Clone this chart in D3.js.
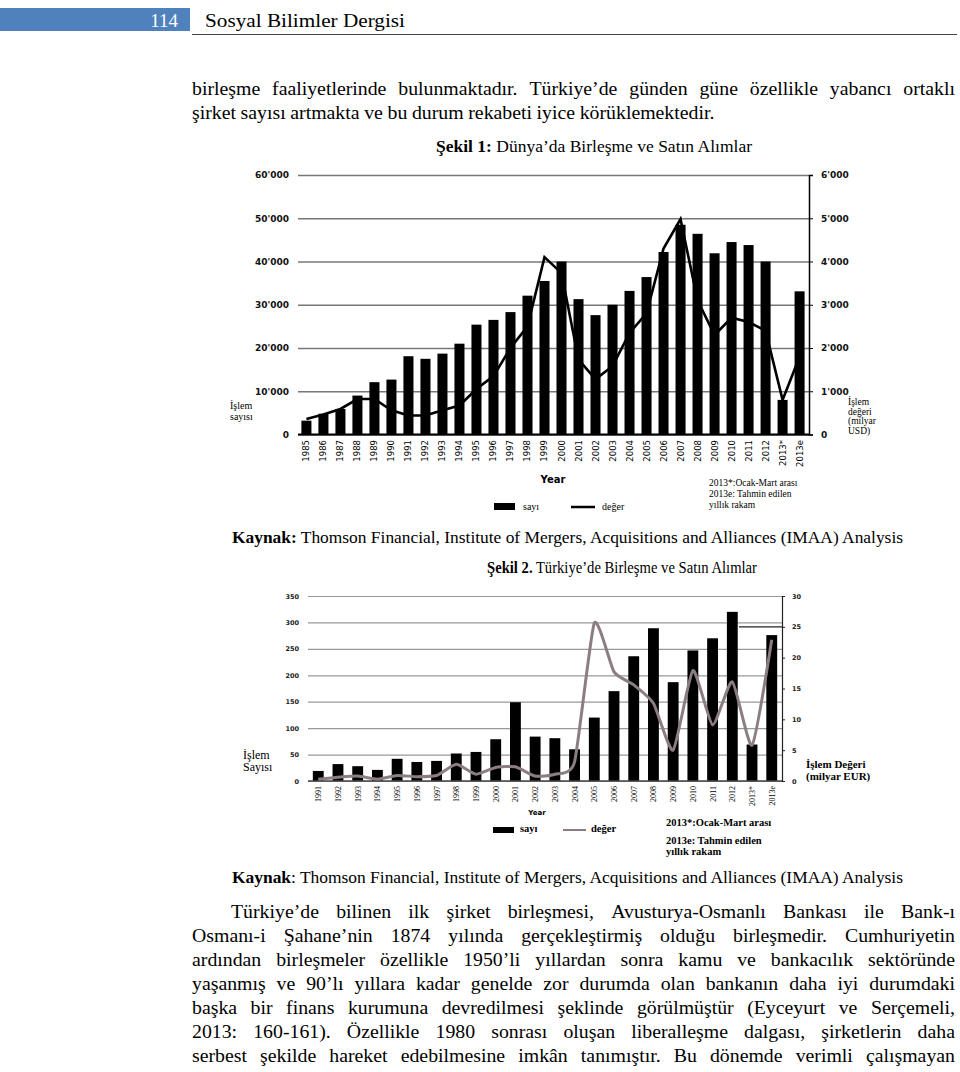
<!DOCTYPE html>
<html>
<head>
<meta charset="utf-8">
<script src="https://cdn.jsdelivr.net/npm/d3@7"></script>
<style>
  body { margin: 0; background: #fff; }
  svg text { font-family: "Liberation Serif", "Times New Roman", serif; }
  .sans { font-family: "DejaVu Sans", Verdana, sans-serif; }
</style>
</head>
<body>
<svg id="page" width="960" height="1072"></svg>
<script>
// chart 1: world M&A
const years1 = ["1985", "1986", "1987", "1988", "1989", "1990", "1991", "1992", "1993", "1994", "1995", "1996", "1997", "1998", "1999",
    "2000", "2001", "2002", "2003", "2004", "2005", "2006", "2007", "2008", "2009", "2010", "2011", "2012", "2013*", "2013e"];
const deals1 = [3200, 4800, 5900, 9000, 12100, 12700, 18100, 17500, 18700, 21000, 25400, 26500, 28300, 32100, 35500,
    40000, 31300, 27600, 30000, 33200, 36400, 42200, 48500, 46400, 41900, 44500, 43800, 40000, 8000, 33100];
const value1 = [360, 460, 590, 820, 820, 560, 440, 440, 560, 670, 1050, 1350, 2000, 2500, 4100,
    3730, 1730, 1280, 1580, 2350, 2800, 4300, 4980, 3100, 2300, 2700, 2600, 2400, 800, 1800];
const ticksLeft1 = [0, 10000, 20000, 30000, 40000, 50000, 60000];
const ticksRight1 = [0, 1000, 2000, 3000, 4000, 5000, 6000];

// chart 2: Turkey M&A
const years2 = ["1991", "1992", "1993", "1994", "1995", "1996", "1997", "1998", "1999", "2000", "2001", "2002",
    "2003", "2004", "2005", "2006", "2007", "2008", "2009", "2010", "2011", "2012", "2013*", "2013e"];
const deals2 = [19, 32, 28, 21, 42, 36, 38, 52, 55, 79, 149, 84, 81, 60, 120, 170, 236, 289, 187, 247, 270, 320, 69, 276];
const value2 = [0.3, 0.6, 0.8, 0.3, 0.9, 0.7, 0.9, 2.7, 1.1, 2.2, 2.3, 0.8, 1.1, 3.1, 25.6, 17.7, 15.6, 12.6, 5.0, 17.9, 9.1, 16.1, 5.8, 22.9];
const ticksLeft2 = [0, 50, 100, 150, 200, 250, 300, 350];
const ticksRight2 = [0, 5, 10, 15, 20, 25, 30];

const para1 = [
    "birleşme faaliyetlerinde bulunmaktadır. Türkiye’de günden güne özellikle yabancı ortaklı",
    "şirket sayısı artmakta ve bu durum rekabeti iyice körüklemektedir."
];
const para2 = [
    "Türkiye’de bilinen ilk şirket birleşmesi, Avusturya-Osmanlı Bankası ile Bank-ı",
    "Osmanı-i Şahane’nin 1874 yılında gerçekleştirmiş olduğu birleşmedir. Cumhuriyetin",
    "ardından birleşmeler özellikle 1950’li yıllardan sonra kamu ve bankacılık sektöründe",
    "yaşanmış ve 90’lı yıllara kadar genelde zor durumda olan bankanın daha iyi durumdaki",
    "başka bir finans kurumuna devredilmesi şeklinde görülmüştür (Eyceyurt ve Serçemeli,",
    "2013: 160-161). Özellikle 1980 sonrası oluşan liberalleşme dalgası, şirketlerin daha",
    "serbest şekilde hareket edebilmesine imkân tanımıştır. Bu dönemde verimli çalışmayan"
];

const svg = d3.select("#page");
const WORD_STRETCH = 1.07;

function apos(d) {
    return d3.format(",")(d).replace(",", "'");
}

// spread words of one line between x0 and x1 (x1 null = left aligned)
function textLine(str, x0, x1, y, size) {
    let words = str.split(" ");
    let nodes = words.map(w => svg.append("text").text(w).attr("y", y).style("font-size", size + "px"));
    let widths = nodes.map(n => n.node().getComputedTextLength() * WORD_STRETCH);
    let gap = x1 === null ? size * 0.25 : (x1 - x0 - d3.sum(widths)) / (words.length - 1);
    let x = x0;
    nodes.forEach((n, i) => {
        n.attr("x", x).attr("textLength", widths[i]).attr("lengthAdjust", "spacingAndGlyphs");
        x += widths[i] + gap;
    });
}

function plainText(str, x, y, size, opts = {}) {
    let t = svg.append("text").text(str).attr("x", x).attr("y", y).style("font-size", size + "px");
    if (opts.bold) t.style("font-weight", "bold");
    if (opts.cls) t.attr("class", opts.cls);
    if (opts.anchor) t.attr("text-anchor", opts.anchor);
    if (opts.fill) t.attr("fill", opts.fill);
    if (opts.len) t.attr("textLength", opts.len).attr("lengthAdjust", "spacingAndGlyphs");
    return t;
}

function mixedText(parts, x, y, size, len) {
    let t = svg.append("text").attr("x", x).attr("y", y).style("font-size", size + "px");
    parts.forEach(p => t.append("tspan").text(p[0]).style("font-weight", p[1] ? "bold" : "normal"));
    if (len) t.attr("textLength", len).attr("lengthAdjust", "spacingAndGlyphs");
    return t;
}

/**
 * page header
 */
svg.append("rect").attr("x", 0).attr("y", 8).attr("width", 190).attr("height", 23).attr("fill", "#4f81bd");
plainText("114", 178, 27, 19, {anchor: "end", fill: "#fff"});
plainText("Sosyal Bilimler Dergisi", 205, 27, 19, {len: 200});
svg.append("line").attr("x1", 192).attr("x2", 957).attr("y1", 34.5).attr("y2", 34.5).attr("stroke", "#444").attr("stroke-width", 1.2);

textLine(para1[0], 192, 955, 95, 18.5);
textLine(para1[1], 192, null, 119, 18.5);

/**
 * chart 1
 */
mixedText([["Şekil 1:", true], [" Dünya’da Birleşme ve Satın Alımlar", false]], 436, 152, 17, 316);

function drawChart1() {
    let x = d3.scaleBand().domain(years1).range([298, 808]).paddingInner(0.41).paddingOuter(0.2);
    let yL = d3.scaleLinear().domain([0, 60000]).range([434.5, 175]);
    let yR = d3.scaleLinear().domain([0, 6000]).range([434.5, 175]);

    let g = svg.append("g");
    let grid = g.append("g").attr("transform", "translate(298,0)")
        .call(d3.axisLeft(yL).tickValues(ticksLeft1).tickSize(-511).tickFormat(apos).tickPadding(9));
    grid.select(".domain").remove();
    grid.selectAll(".tick line").attr("stroke", "#777").attr("stroke-width", 1.5);
    grid.selectAll(".tick text").attr("class", "sans").style("font-size", "9px").style("font-weight", "bold").attr("fill", "#111");

    g.selectAll(".bar").data(years1).enter().append("rect")
        .attr("x", d => x(d)).attr("width", x.bandwidth())
        .attr("y", (d, i) => yL(deals1[i])).attr("height", (d, i) => yL(0) - yL(deals1[i]))
        .attr("fill", "#000");

    g.append("line").attr("x1", 298).attr("x2", 809).attr("y1", yL(0)).attr("y2", yL(0)).attr("stroke", "#000").attr("stroke-width", 2);

    let line = d3.line().x((d, i) => x(years1[i]) + x.bandwidth() / 2).y(d => yR(d));
    g.append("path").datum(value1).attr("d", line).attr("fill", "none").attr("stroke", "#000").attr("stroke-width", 2.6)
        .attr("stroke-linejoin", "miter");

    let right = g.append("g").attr("transform", "translate(809,0)")
        .call(d3.axisRight(yR).tickValues(ticksRight1).tickSize(4).tickFormat(apos).tickPadding(8));
    right.select(".domain").attr("stroke", "#000").attr("stroke-width", 1.5);
    right.selectAll(".tick line").attr("stroke", "#000");
    right.selectAll(".tick text").attr("class", "sans").style("font-size", "9px").style("font-weight", "bold").attr("fill", "#111");

    g.selectAll(".yr").data(years1).enter().append("text").attr("class", "sans")
        .text(d => d).attr("text-anchor", "end").style("font-size", "8.5px")
        .attr("transform", d => `translate(${x(d) + x.bandwidth() / 2 + 3},440) rotate(-90)`);

    plainText("İşlem", 230, 409, 10);
    plainText("sayısı", 230, 420, 10);
    ["İşlem", "değeri", "(milyar", "USD)"].forEach((s, i) => plainText(s, 848, 405 + i * 9.5, 9.5));

    plainText("Year", 553, 483, 10, {cls: "sans", bold: true, anchor: "middle"});
    svg.append("rect").attr("x", 494).attr("y", 503).attr("width", 21).attr("height", 7).attr("fill", "#000");
    plainText("sayı", 523, 510, 10);
    svg.append("line").attr("x1", 571).attr("x2", 595).attr("y1", 507).attr("y2", 507).attr("stroke", "#000").attr("stroke-width", 2.5);
    plainText("değer", 602, 510, 10);
    ["2013*:Ocak-Mart arası", "2013e: Tahmin edilen", "yıllık rakam"].forEach((s, i) => plainText(s, 709, 486 + i * 11, 9.5));
}
drawChart1();

mixedText([["Kaynak:", true], [" Thomson Financial, Institute of Mergers, Acquisitions and Alliances (IMAA) Analysis", false]], 232, 543, 16, 671);

/**
 * chart 2
 */
mixedText([["Şekil 2.", true], [" Türkiye’de Birleşme ve Satın Alımlar", false]], 487, 573, 16, 270);

function drawChart2() {
    let x = d3.scaleBand().domain(years2).range([308.5, 781.5]).paddingInner(0.45).paddingOuter(0.22);
    let yL = d3.scaleLinear().domain([0, 350]).range([781, 596]);
    let yR = d3.scaleLinear().domain([0, 30]).range([781, 596]);

    let g = svg.append("g");
    let grid = g.append("g").attr("transform", "translate(308,0)")
        .call(d3.axisLeft(yL).tickValues(ticksLeft2).tickSize(-474).tickPadding(9));
    grid.select(".domain").remove();
    grid.selectAll(".tick line").attr("stroke", "#999").attr("stroke-width", 1.2);
    grid.selectAll(".tick text").attr("class", "sans").style("font-size", "6.5px").style("font-weight", "bold").attr("fill", "#222");

    g.selectAll(".bar").data(years2).enter().append("rect")
        .attr("x", d => x(d)).attr("width", x.bandwidth())
        .attr("y", (d, i) => yL(deals2[i])).attr("height", (d, i) => yL(0) - yL(deals2[i]))
        .attr("fill", "#000");

    g.append("line").attr("x1", 308).attr("x2", 782).attr("y1", yL(0)).attr("y2", yL(0)).attr("stroke", "#444").attr("stroke-width", 1.5);

    let line = d3.line().x((d, i) => x(years2[i]) + x.bandwidth() / 2).y(d => yR(d)).curve(d3.curveCardinal.tension(0.45));
    g.append("path").datum(value2).attr("d", line).attr("fill", "none").attr("stroke", "#8c7d84").attr("stroke-width", 3);

    // short dark segment at right edge
    g.append("line").attr("x1", 739).attr("x2", 782).attr("y1", yR(25)).attr("y2", yR(25)).attr("stroke", "#222").attr("stroke-width", 1.2);

    let right = g.append("g").attr("transform", "translate(782,0)")
        .call(d3.axisRight(yR).tickValues(ticksRight2).tickSize(3).tickPadding(7));
    right.select(".domain").attr("stroke", "#222").attr("stroke-width", 1.2);
    right.selectAll(".tick line").attr("stroke", "#222");
    right.selectAll(".tick text").attr("class", "sans").style("font-size", "6.5px").style("font-weight", "bold").attr("fill", "#222");

    g.selectAll(".yr").data(years2).enter().append("text")
        .text(d => d).attr("text-anchor", "end").style("font-size", "8px")
        .attr("transform", d => `translate(${x(d) + x.bandwidth() / 2 + 3},786) rotate(-90)`);

    plainText("İşlem", 243, 759, 12);
    plainText("Sayısı", 243, 771, 12);
    plainText("İşlem Değeri", 806, 768, 11, {bold: true});
    plainText("(milyar EUR)", 806, 780, 11, {bold: true});

    plainText("Year", 537, 815, 7, {cls: "sans", bold: true, anchor: "middle"});
    svg.append("rect").attr("x", 493).attr("y", 827).attr("width", 21).attr("height", 6).attr("fill", "#000");
    plainText("sayı", 520, 832, 10.5, {bold: true});
    svg.append("line").attr("x1", 563).attr("x2", 586).attr("y1", 830).attr("y2", 830).attr("stroke", "#8c7d84").attr("stroke-width", 2);
    plainText("değer", 591, 832, 10.5, {bold: true});
    plainText("2013*:Ocak-Mart arası", 666, 826, 10.5, {bold: true});
    plainText("2013e: Tahmin edilen", 666, 844, 10.5, {bold: true});
    plainText("yıllık rakam", 666, 855, 10.5, {bold: true});
}
drawChart2();

mixedText([["Kaynak", true], [": Thomson Financial, Institute of Mergers, Acquisitions and Alliances (IMAA) Analysis", false]], 232, 883, 16, 671);

/**
 * body text
 */
para2.forEach((s, i) => textLine(s, i === 0 ? 231 : 192, 955, 918 + i * 24, 18.5));
</script>
</body>
</html>
